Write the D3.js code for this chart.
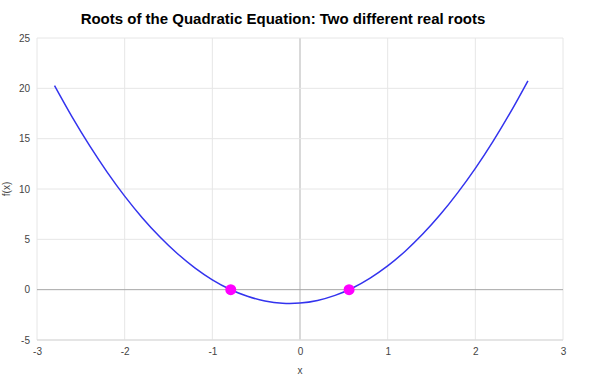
<!DOCTYPE html>
<html>
<head>
<meta charset="utf-8">
<script src="https://cdn.jsdelivr.net/npm/d3@7"></script>
<style>
	body { margin: 0; background: #fff; }
	text { font-family: Arial, "Liberation Sans", sans-serif; }
</style>
</head>
<body>
<div id="chart"></div>
<script>
	"use strict";
	// curve samples
	var curveX = [-2.8, -2.6, -2.4, -2.2, -2.0, -1.8, -1.6, -1.4, -1.2, -1.0, -0.8, -0.6, -0.4, -0.2,
		0, 0.2, 0.4, 0.6, 0.8, 1.0, 1.2, 1.4, 1.6, 1.8, 2.0, 2.2, 2.4, 2.6];
	var curveY = [20.26, 17.16, 14.30, 11.68, 9.29, 7.15, 5.25, 3.59, 2.17, 0.98, 0.04, -0.66, -1.12, -1.35,
		-1.33, -1.07, -0.57, 0.17, 1.15, 2.36, 3.82, 5.52, 7.46, 9.64, 12.05, 14.71, 17.61, 20.75];
	var rootsX = [-0.79, 0.56];
	var rootsY = [0, 0];
	var xTicks = [-3, -2, -1, 0, 1, 2, 3];
	var yTicks = [-5, 0, 5, 10, 15, 20, 25];

	(function() {
		var width = 600, height = 380;
		var mLeft = 37, mRight = 563, mTop = 38, mBottom = 340;

		var svg = d3.select("#chart").append("svg")
			.attr("width", width).attr("height", height);

		var x = d3.scaleLinear().domain([-3, 3]).range([mLeft, mRight]);
		var y = d3.scaleLinear().domain([-5, 25]).range([mBottom, mTop]);
		var fmt = function(d) { return String(d); };

		// grid
		svg.append("g").selectAll("line").data(xTicks).enter().append("line")
			.attr("x1", function(d) { return x(d); }).attr("x2", function(d) { return x(d); })
			.attr("y1", mTop).attr("y2", mBottom)
			.attr("stroke", function(d) { return d === 0 ? "#cccccc" : "#e6e6e6"; })
			.attr("stroke-width", function(d) { return d === 0 ? 1.5 : 1; });
		svg.append("g").selectAll("line").data(yTicks).enter().append("line")
			.attr("x1", mLeft).attr("x2", mRight)
			.attr("y1", function(d) { return y(d); }).attr("y2", function(d) { return y(d); })
			.attr("stroke", function(d) { return d === 0 ? "#a6a6a6" : (d === -5 ? "#dddddd" : "#e6e6e6"); })
			.attr("stroke-width", function(d) { return d === -5 ? 1.5 : 1; });

		// axes
		var xAxis = svg.append("g").attr("transform", "translate(0," + (mBottom + 12) + ")")
			.call(d3.axisBottom(x).tickValues(xTicks).tickFormat(fmt).tickSize(0).tickPadding(0));
		var yAxis = svg.append("g").attr("transform", "translate(" + (mLeft - 7) + ",0)")
			.call(d3.axisLeft(y).tickValues(yTicks).tickFormat(fmt).tickSize(0).tickPadding(0));
		[xAxis, yAxis].forEach(function(a) {
			a.select(".domain").remove();
			a.selectAll("text").attr("fill", "#444").style("font-size", "10px")
				.style("font-family", "Arial, 'Liberation Sans', sans-serif");
		});
		xAxis.selectAll("text").attr("dy", "0.32em");

		// titles
		svg.append("text").attr("x", 283).attr("y", 24).attr("text-anchor", "middle")
			.style("font-size", "15px").style("font-weight", "bold").attr("fill", "#000")
			.text("Roots of the Quadratic Equation: Two different real roots");
		svg.append("text").attr("x", x(0)).attr("y", 374).attr("text-anchor", "middle")
			.style("font-size", "10px").attr("fill", "#444").text("x");
		svg.append("text").attr("transform", "translate(10," + y(10) + ") rotate(-90)")
			.attr("text-anchor", "middle").style("font-size", "10px").attr("fill", "#444").text("f(x)");

		// curve
		var pts = curveX.map(function(v, i) { return [v, curveY[i]]; });
		var line = d3.line()
			.x(function(d) { return x(d[0]); })
			.y(function(d) { return y(d[1]); })
			.curve(d3.curveCatmullRom);
		svg.append("path").datum(pts).attr("d", line)
			.attr("fill", "none").attr("stroke", "#3333ee").attr("stroke-width", 1.5);

		// roots
		svg.append("g").selectAll("circle").data(rootsX).enter().append("circle")
			.attr("cx", function(d) { return x(d); })
			.attr("cy", function(d, i) { return y(rootsY[i]); })
			.attr("r", 5.5).attr("fill", "#ff00ff");
	})();
</script>
</body>
</html>
